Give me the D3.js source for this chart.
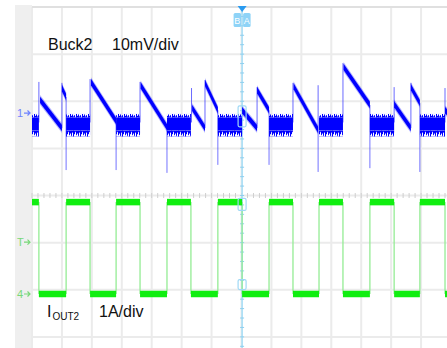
<!DOCTYPE html>
<html>
<head>
<meta charset="utf-8">
<script src="https://cdn.jsdelivr.net/npm/d3@7"></script>
<style>
body { margin: 0; background: #fff; }
svg { display: block; font-family: "Liberation Sans", Arial, sans-serif; }
</style>
</head>
<body>
<svg width="447" height="348"></svg>
<script>
window.onload = function() {

// time is in divisions (14 div across), ch1 in mV, ch4 in A
var loadEdges = [0.23, 1.14, 1.94, 2.81, 3.61, 4.51, 5.31, 6.21, 7.02, 7.92, 8.72, 9.59, 10.39, 11.29, 12.10, 12.96, 13.80];
var currentHigh = 1.95;
var currentLow = 0;

// ch1 sawtooth ramps: [t0, v0, t1, v1]
var ramps1 = [
    [0.27, 2.8, 1.00, -3.2],
    [1.00, 5.3, 1.14, 3.4],
    [1.97, 6.6, 2.81, -1.7],
    [3.63, 5.9, 4.51, -3.0],
    [5.35, 1.1, 5.78, -3.2],
    [5.78, 6.4, 6.21, 0.6],
    [7.02, 0.6, 7.52, -3.2],
    [7.52, 4.9, 7.92, 0.6],
    [8.74, 5.7, 9.56, -3.6],
    [10.41, 9.8, 11.29, 1.7],
    [12.10, 1.9, 12.66, -3.2],
    [12.66, 5.5, 12.96, 2.1],
    [13.80, 0.6, 14.10, -1.2]
];
// thin spikes: [t, from, to]
var spikesUp1 = [[0.23, -2, 6.6], [1.00, -3.2, 6.4], [1.94, -2, 7.2], [3.61, -2, 6.6], [5.33, -2, 5.3],
    [5.78, -3.2, 7.0], [7.52, -3.2, 5.5], [8.72, -2, 6.4], [9.56, -3.6, 5.9], [10.39, -2, 10.6],
    [12.10, -2, 5.5], [12.66, -3.2, 6.4], [13.80, -2, 5.3]];
var spikesDown1 = [[1.14, 3.4, -12.1], [2.81, -1.7, -12.1], [4.51, -3.0, -12.7], [6.21, 0.6, -11.0],
    [7.92, 0.6, -11.0], [9.56, -3.6, -12.5], [11.29, 1.7, -11.7], [12.96, 2.1, -12.5]];
// noise band while loaded: fuzz top, core top, core bottom, fuzz bottom (mV)
var noiseBand1 = [-0.2, -1.0, -3.7, -5.0];

var ch1Offset = 1.75;   // div
var ch4Offset = -2.09;  // div
var ch1Scale = 10;      // mV/div
var ch4Scale = 1;       // A/div
var triggerLevel = 1.1; // A
var cursorT = 7.02;

var svg = d3.select("svg");
var blue = "#0000ff";
var green = "#10ee10";
var gridColor = "#ebebeb";

var x = d3.scaleLinear().domain([0, 14]).range([32, 451]);
var y = d3.scaleLinear().domain([-4, 4]).range([384, 7]);
function y1(v) { return y(ch1Offset + v / ch1Scale); }
function y4(v) { return y(ch4Offset + v / ch4Scale); }

// left strip
svg.append("rect").attr("x", 15).attr("y", 5).attr("width", 17).attr("height", 343).attr("fill", "#efefef");

// graticule
var grid = svg.append("g");
grid.selectAll(".v").data(d3.range(0, 15)).enter().append("line")
    .attr("x1", function(d) { return x(d); }).attr("x2", function(d) { return x(d); })
    .attr("y1", y(4)).attr("y2", y(-4))
    .attr("stroke", gridColor).attr("stroke-width", 2);
grid.selectAll(".h").data(d3.range(-4, 5)).enter().append("line")
    .attr("x1", x(0)).attr("x2", x(14))
    .attr("y1", function(d) { return y(d); }).attr("y2", function(d) { return y(d); })
    .attr("stroke", function(d) { return d == 4 ? "#e0e0e0" : gridColor; }).attr("stroke-width", 2);
grid.selectAll(".ht").data(d3.range(0, 14, 0.2)).enter().append("line")
    .attr("x1", function(d) { return x(d); }).attr("x2", function(d) { return x(d); })
    .attr("y1", y(0) - 2.5).attr("y2", y(0) + 2.5)
    .attr("stroke", "#cfcfcf").attr("stroke-width", 1);

// cursor
svg.append("line").attr("x1", x(cursorT)).attr("x2", x(cursorT)).attr("y1", y(4)).attr("y2", 348)
    .attr("stroke", "#a9def6").attr("stroke-width", 1.6);
svg.selectAll(".ct").data(d3.range(-3.8, 3.9, 0.2)).enter().append("line")
    .attr("x1", x(cursorT) - 2).attr("x2", x(cursorT) + 2)
    .attr("y1", function(d) { return y(d); }).attr("y2", function(d) { return y(d); })
    .attr("stroke", "#8fcfee").attr("stroke-width", 1);

// patterns for noise fuzz
var defs = svg.append("defs");
var fuzzH = y1(noiseBand1[1]) - y1(noiseBand1[0]);
var fuzzB = y1(noiseBand1[3]) - y1(noiseBand1[2]);
var pTop = defs.append("pattern").attr("id", "fuzzTop").attr("patternUnits", "userSpaceOnUse")
    .attr("x", 0).attr("y", y1(noiseBand1[0])).attr("width", 6).attr("height", fuzzH);
[[0.5, 0.1], [1.5, 0.6], [2.5, 0.3], [3.5, 0.8], [4.5, 0], [5.5, 0.5]].forEach(function(p) {
    pTop.append("line").attr("x1", p[0]).attr("x2", p[0]).attr("y1", p[1] * fuzzH).attr("y2", fuzzH)
        .attr("stroke", blue).attr("stroke-width", 1);
});
var pBot = defs.append("pattern").attr("id", "fuzzBot").attr("patternUnits", "userSpaceOnUse")
    .attr("x", 0).attr("y", y1(noiseBand1[2])).attr("width", 7).attr("height", fuzzB);
[[0.5, 0.5], [1.5, 0.9], [2.5, 0.35], [3.5, 1], [4.5, 0.6], [5.5, 0.25], [6.5, 0.75]].forEach(function(p) {
    pBot.append("line").attr("x1", p[0]).attr("x2", p[0]).attr("y1", 0).attr("y2", p[1] * fuzzB)
        .attr("stroke", blue).attr("stroke-width", 1);
});

// ch4 current trace
var times = [0].concat(loadEdges, [14]);
var segs = [];
for (var i = 0; i < times.length - 1; i++) {
    segs.push({ t0: times[i], t1: times[i + 1], v: i % 2 == 0 ? currentHigh : currentLow });
}
var ch4 = svg.append("g");
ch4.selectAll(".edge").data(loadEdges).enter().append("line")
    .attr("x1", function(d) { return x(d); }).attr("x2", function(d) { return x(d); })
    .attr("y1", y4(currentHigh)).attr("y2", y4(currentLow))
    .attr("stroke", "#94ec94").attr("stroke-width", 1.3);
ch4.selectAll(".flat").data(segs).enter().append("line")
    .attr("x1", function(d) { return x(d.t0); }).attr("x2", function(d) { return x(d.t1); })
    .attr("y1", function(d) { return y4(d.v); }).attr("y2", function(d) { return y4(d.v); })
    .attr("stroke", green).attr("stroke-width", 6.5);

// ch1 voltage ripple
var ch1 = svg.append("g");
var loaded = segs.filter(function(d) { return d.v == currentHigh; });
ch1.selectAll(".up").data(spikesUp1).enter().append("line")
    .attr("x1", function(d) { return x(d[0]); }).attr("x2", function(d) { return x(d[0]); })
    .attr("y1", function(d) { return y1(d[1]); }).attr("y2", function(d) { return y1(d[2]); })
    .attr("stroke", "#3a3aff").attr("stroke-width", 1).attr("opacity", 0.75);
ch1.selectAll(".down").data(spikesDown1).enter().append("line")
    .attr("x1", function(d) { return x(d[0]); }).attr("x2", function(d) { return x(d[0]); })
    .attr("y1", function(d) { return y1(d[1]); }).attr("y2", function(d) { return y1(d[2]); })
    .attr("stroke", "#3a3aff").attr("stroke-width", 1).attr("opacity", 0.7);
ch1.selectAll(".core").data(loaded).enter().append("rect")
    .attr("x", function(d) { return x(d.t0); }).attr("width", function(d) { return x(d.t1) - x(d.t0); })
    .attr("y", y1(noiseBand1[1])).attr("height", y1(noiseBand1[2]) - y1(noiseBand1[1]))
    .attr("fill", blue);
ch1.selectAll(".ftop").data(loaded).enter().append("rect")
    .attr("x", function(d) { return x(d.t0); }).attr("width", function(d) { return x(d.t1) - x(d.t0); })
    .attr("y", y1(noiseBand1[0])).attr("height", fuzzH)
    .attr("fill", "url(#fuzzTop)");
ch1.selectAll(".fbot").data(loaded).enter().append("rect")
    .attr("x", function(d) { return x(d.t0); }).attr("width", function(d) { return x(d.t1) - x(d.t0); })
    .attr("y", y1(noiseBand1[2])).attr("height", fuzzB)
    .attr("fill", "url(#fuzzBot)");

// ramps drawn as bands with vertical thickness
function band(d, h) {
    var xa = x(d[0]), xb = x(d[2]), ya = y1(d[1]), yb = y1(d[3]);
    return "M" + xa + "," + (ya - h) + "L" + xb + "," + (yb - h) + "L" + xb + "," + (yb + h) + "L" + xa + "," + (ya + h) + "Z";
}
ch1.selectAll(".halo").data(ramps1).enter().append("path")
    .attr("d", function(d) { return band(d, 4.8); })
    .attr("fill", blue).attr("opacity", 0.3);
ch1.selectAll(".ramp").data(ramps1).enter().append("path")
    .attr("d", function(d) { return band(d, 3.2); })
    .attr("fill", blue);

// cursor readout boxes
var cursorBoxes = [[y1(-0.7), 21], [y4(1.9), 12], [y4(0.2), 10]];
svg.selectAll(".cb").data(cursorBoxes).enter().append("rect")
    .attr("x", x(cursorT) - 4).attr("width", 8)
    .attr("y", function(d) { return d[0] - d[1] / 2; }).attr("height", function(d) { return d[1]; })
    .attr("rx", 1.5).attr("fill", "none").attr("stroke", "#9fd8f5").attr("stroke-width", 1.2);

// cursor head
svg.append("path")
    .attr("d", "M" + (x(cursorT) - 4.5) + ",6L" + (x(cursorT) + 4.5) + ",6L" + x(cursorT) + ",12Z")
    .attr("fill", "#2a9bf0");
["B", "A"].forEach(function(c, i) {
    var bx = x(cursorT) + (i == 0 ? -8.5 : 1);
    svg.append("rect").attr("x", bx).attr("y", 13).attr("width", 7.5).attr("height", 14)
        .attr("rx", 1.5).attr("fill", "#8ed3f7");
    svg.append("text").attr("x", bx + 3.75).attr("y", 23.5).attr("text-anchor", "middle")
        .attr("font-size", 9).attr("fill", "#fff").text(c);
});

// channel markers
function marker(label, yy, color) {
    svg.append("text").attr("x", 17).attr("y", yy + 4).attr("font-size", 11).attr("fill", color).text(label);
    svg.append("path").attr("d", "M24," + yy + "L30," + yy + "M27.5," + (yy - 2.5) + "L30," + yy + "L27.5," + (yy + 2.5))
        .attr("stroke", color).attr("stroke-width", 1.2).attr("fill", "none");
}
marker("1", y1(0), "#6f84ff");
marker("T", y4(triggerLevel), "#78d878");
marker("4", y4(0), "#78d878");

// annotations
svg.append("text").attr("x", 48).attr("y", 50).attr("font-size", 16).attr("fill", "#111").text("Buck2");
svg.append("text").attr("x", 112).attr("y", 50).attr("font-size", 16).attr("fill", "#111").text("10mV/div");
var iout = svg.append("text").attr("x", 47).attr("y", 317).attr("font-size", 16).attr("fill", "#111");
iout.append("tspan").text("I");
iout.append("tspan").attr("font-size", 10).attr("dy", 3).attr("dx", 1).text("OUT2");
svg.append("text").attr("x", 99).attr("y", 317).attr("font-size", 16).attr("fill", "#111").text("1A/div");

}
</script>
</body>
</html>
